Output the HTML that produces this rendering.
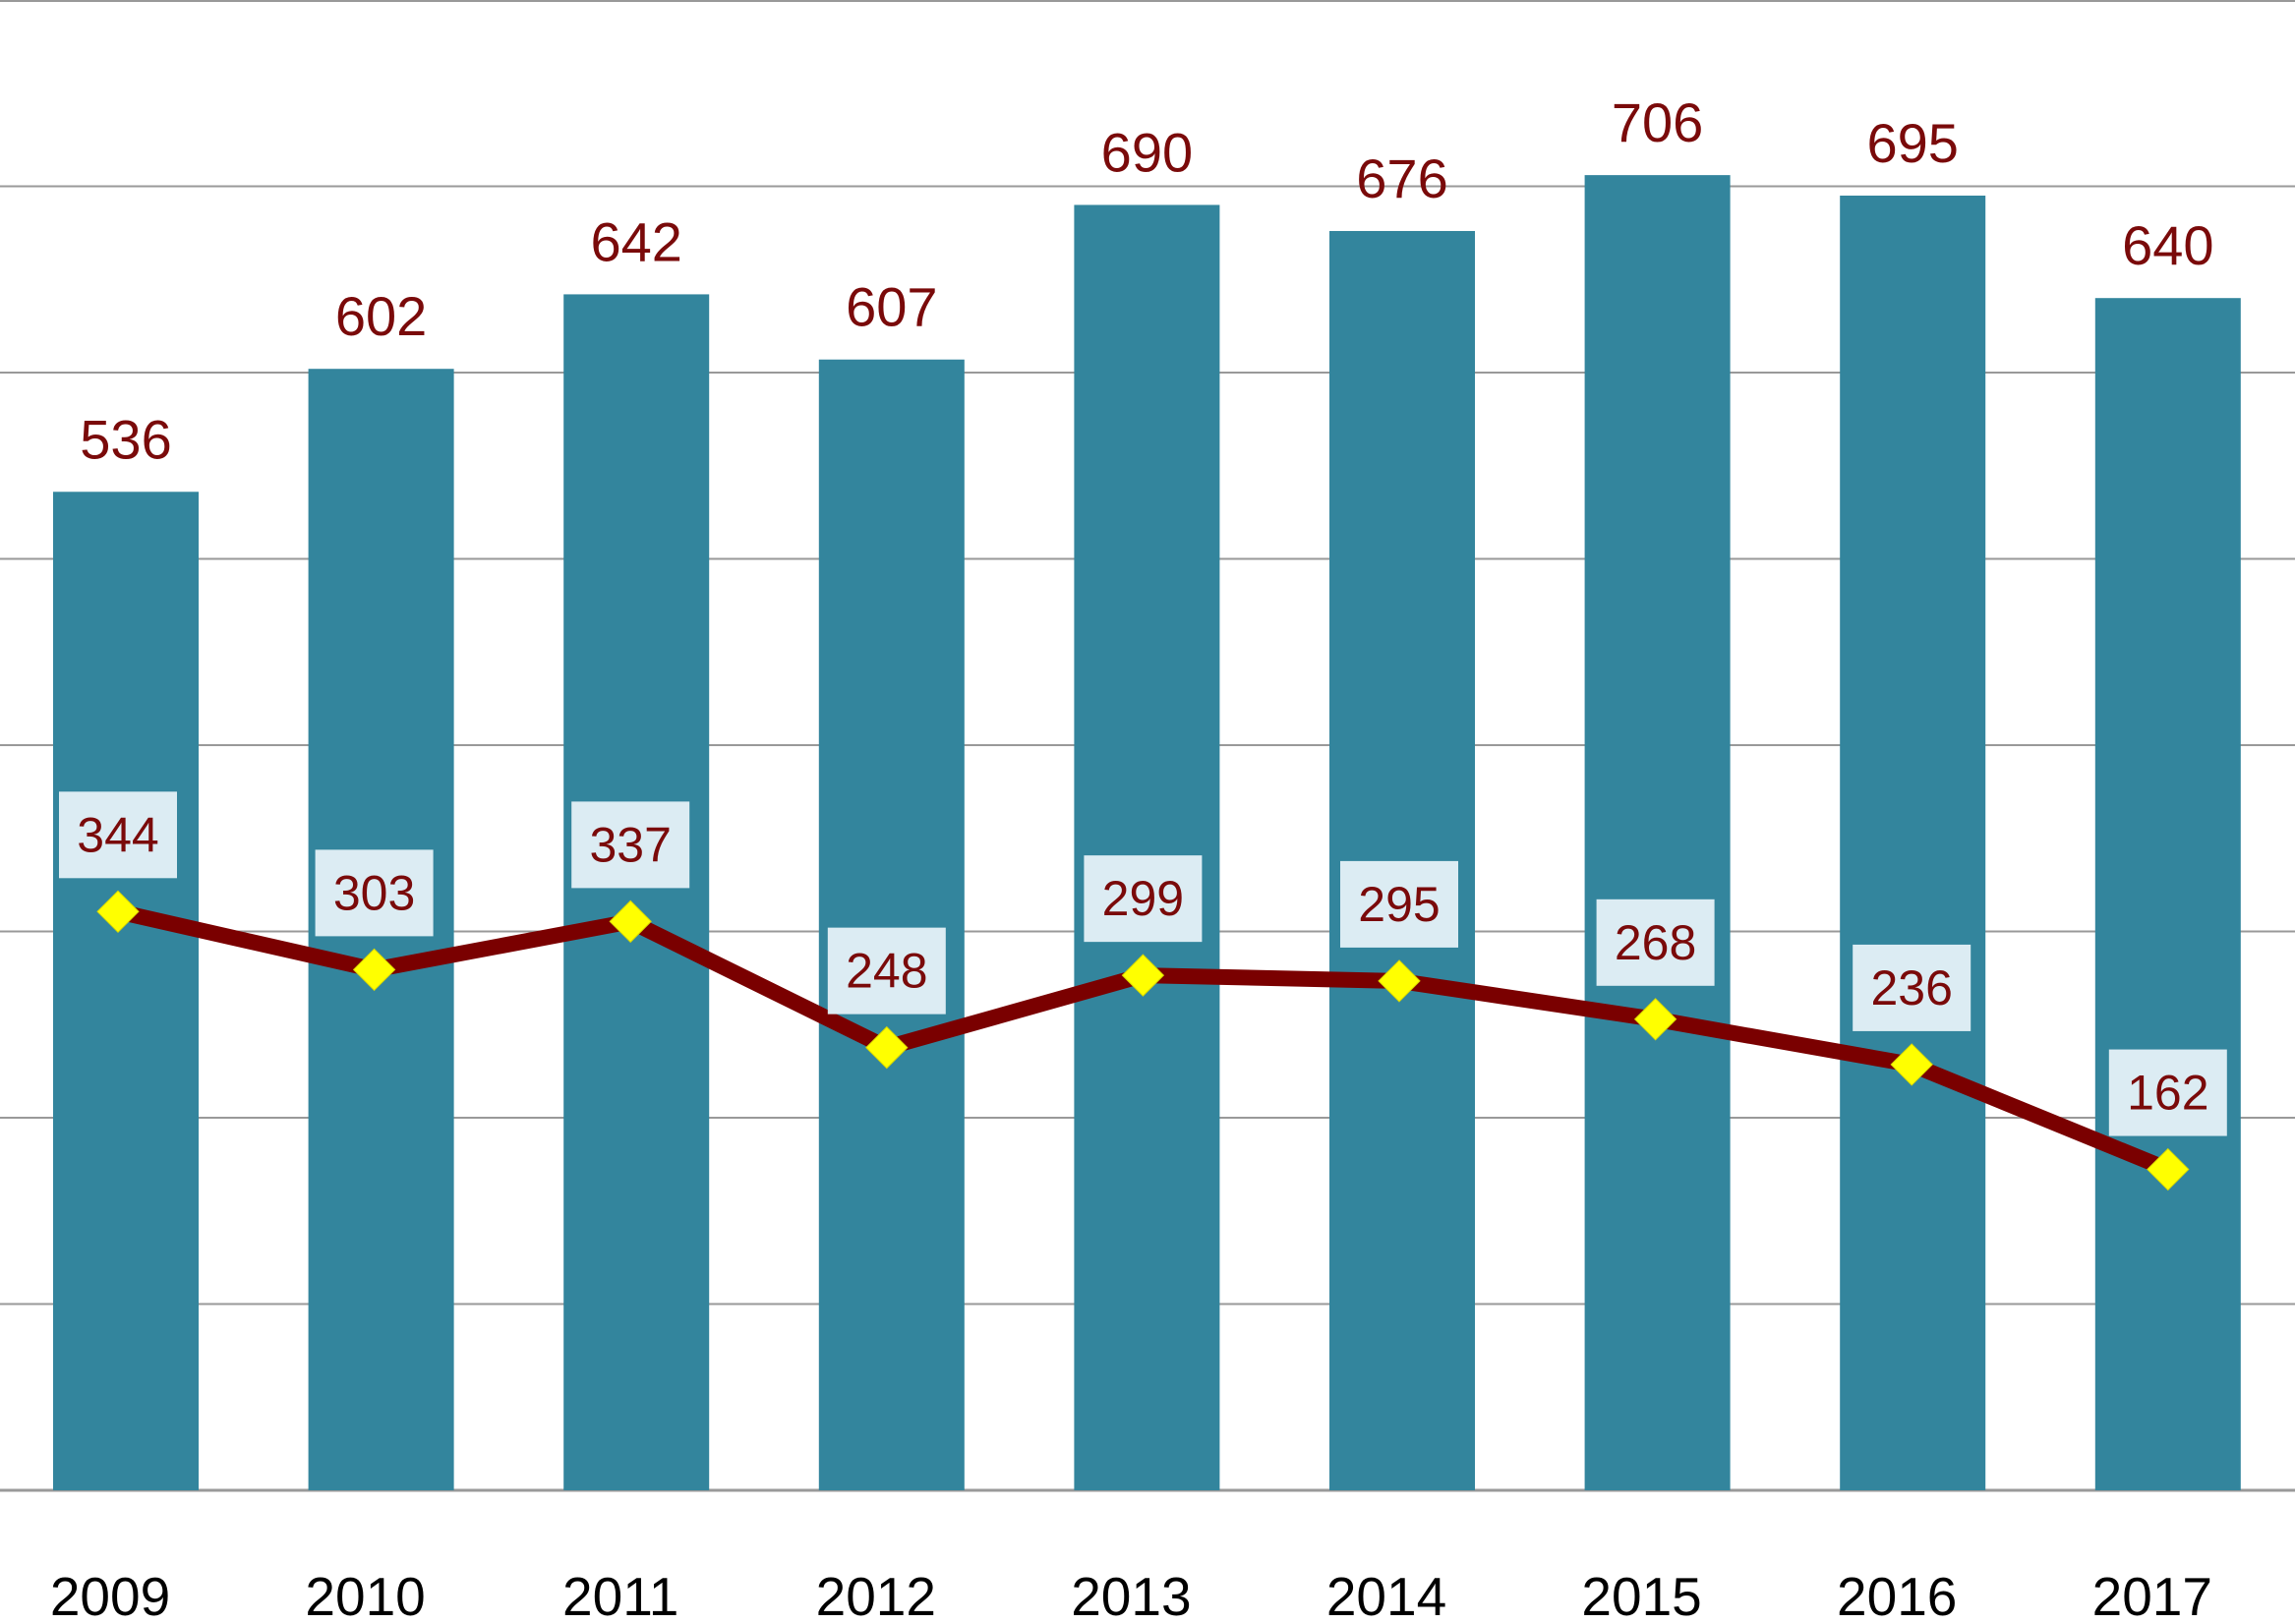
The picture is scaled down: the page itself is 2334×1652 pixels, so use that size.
<!DOCTYPE html>
<html><head><meta charset="utf-8"><style>
html,body{margin:0;padding:0;background:#fff;}
svg{display:block;font-family:"Liberation Sans",Arial,sans-serif;}
</style></head><body>
<svg id="chart" width="2334" height="1652" viewBox="0 0 2334 1652" xmlns="http://www.w3.org/2000/svg"></svg>
<script>
const categories = ['2009','2010','2011','2012','2013','2014','2015','2016','2017'];
const barValues = [536,602,642,607,690,676,706,695,640];
const lineValues = [344,303,337,248,299,295,268,236,162];
const gridTicks = [0,100,200,300,400,500,600,700,800];

const NS='http://www.w3.org/2000/svg';
const svg=document.getElementById('chart');
function yBar(v){return 1516 - v*1.895;}
function yLine(v){return 1423 - v*1.441;}
function xCenter(i){return 128 + i*259.6;}
function mk(tag,attrs,parent){const e=document.createElementNS(NS,tag);for(const k in attrs)e.setAttribute(k,attrs[k]);(parent||svg).appendChild(e);return e;}

const grid=mk('g',{});


gridTicks.forEach(t=>{
  const y=Math.max(1,yBar(t));
  const l=mk('line',{x1:0,x2:2334,y1:y,y2:y,stroke:'#999',"stroke-width":t===0?3:2},grid);
  
  
});

const bars=mk('g',{});


barValues.forEach((v,i)=>{
  const cx=xCenter(i), y=yBar(v);
  const r=mk('rect',{x:cx-74,y:y,width:148,height:1516-y,fill:'#33859d'},bars);
  
  
  const t=mk('text',{x:cx,y:y-34,"text-anchor":'middle',"font-size":56,fill:'#7a0a0a'},bars);
  t.textContent=v;
  
  
});

const xl=mk('g',{});


categories.forEach((c,i)=>{
  const t=mk('text',{x:xCenter(i)-16,y:1643,"text-anchor":'middle',"font-size":55,fill:'#000'},xl);
  t.textContent=c;
  
  
});

const lg=mk('g',{});


const pts=lineValues.map((v,i)=>[xCenter(i)-8*(1-i/8),yLine(v)]);
const pl=mk('polyline',{points:pts.map(p=>p.join(',')).join(' '),fill:'none',stroke:'#7a0000',"stroke-width":16,"stroke-linejoin":'round'},lg);


pts.forEach((p,i)=>{
  const [x,y]=p;
  const d=mk('polygon',{points:`${x},${y-21} ${x+21},${y} ${x},${y+21} ${x-21},${y}`,fill:'#ffff00',stroke:'#d8d800',"stroke-width":1},lg);
  
  
  const b=mk('rect',{x:x-60,y:y-34-88,width:120,height:88,fill:'#dcecf3'},lg);
  
  
  const t=mk('text',{x:x,y:y-34-27,"text-anchor":'middle',"font-size":50,fill:'#7a0a0a'},lg);
  t.textContent=lineValues[i];
  
  
});
</script>
</body></html>
